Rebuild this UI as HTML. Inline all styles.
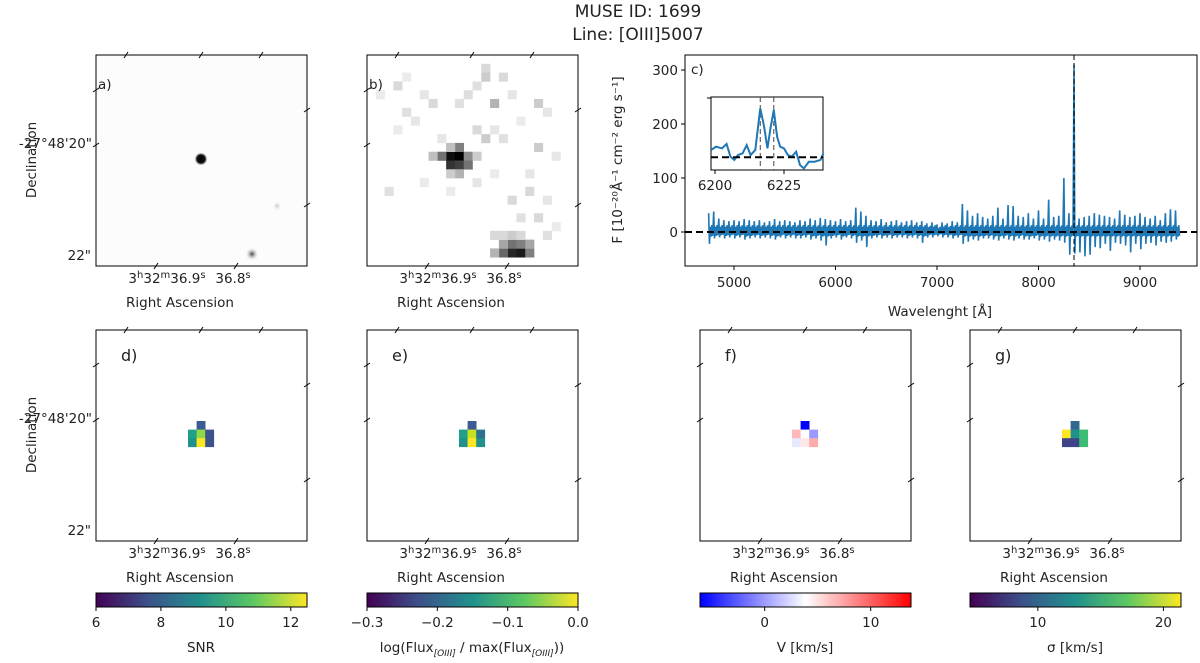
<!DOCTYPE html>
<html><head><meta charset="utf-8"><style>
body{margin:0;background:#fff}
svg{font-family:"DejaVu Sans","Liberation Sans",sans-serif;fill:#222}
text{font-size:13.5px}
</style></head><body>
<svg id="fig" width="1200" height="658" viewBox="0 0 1200 658" xmlns="http://www.w3.org/2000/svg">
<defs>
<linearGradient id="viridis" x1="0" x2="1" y1="0" y2="0">
<stop offset="0" stop-color="#440154"/><stop offset="0.25" stop-color="#3b528b"/><stop offset="0.5" stop-color="#21918c"/><stop offset="0.75" stop-color="#5ec962"/><stop offset="1" stop-color="#fde725"/>
</linearGradient>
<linearGradient id="bwr" x1="0" x2="1" y1="0" y2="0">
<stop offset="0" stop-color="#0000ff"/><stop offset="0.5" stop-color="#ffffff"/><stop offset="1" stop-color="#ff0000"/>
</linearGradient>
<radialGradient id="blob"><stop offset="0" stop-color="#444"/><stop offset="1" stop-color="#fff" stop-opacity="0"/></radialGradient>
<radialGradient id="dot"><stop offset="0" stop-color="#000"/><stop offset="0.6" stop-color="#111"/><stop offset="1" stop-color="#fff" stop-opacity="0"/></radialGradient>
</defs>
<text x="638" y="17" text-anchor="middle" style="font-size:17px">MUSE ID: 1699</text>
<text x="638" y="40" text-anchor="middle" style="font-size:17px">Line: [OIII]5007</text>
<g id="imgs"></g>
<g id="spec"></g>
</svg>
<script>
// ---- spectrum data ----
const specStart = 4750, specStep = 50;
const specHi = [35,38,25,22,20,22,20,24,22,20,22,18,20,24,20,22,20,18,22,20,25,22,26,24,22,20,24,20,22,45,38,30,22,20,24,18,20,22,18,20,22,18,20,16,18,14,18,16,20,18,52,40,30,35,28,25,30,45,25,50,48,30,28,35,25,40,25,60,28,30,100,35,310,25,28,30,35,32,30,28,25,40,32,28,30,35,28,25,30,22,35,42,40];
const specLo = [-22,-12,-10,-12,-10,-12,-10,-14,-12,-10,-12,-10,-12,-14,-10,-12,-10,-12,-12,-10,-14,-12,-16,-25,-12,-10,-14,-10,-12,-20,-16,-28,-12,-10,-12,-10,-12,-10,-10,-12,-10,-12,-20,-10,-10,-8,-10,-10,-12,-10,-22,-18,-14,-16,-12,-12,-14,-16,-12,-14,-16,-12,-14,-14,-12,-16,-14,-18,-14,-16,-20,-42,-40,-38,-45,-42,-28,-30,-22,-35,-20,-22,-25,-38,-22,-32,-22,-20,-25,-18,-20,-18,-14];
const lineWave = 8350;
const yTicksC = [0,100,200,300];
const xTicksC = [5000,6000,7000,8000,9000];
const insetWave = [6198.6,6200.4,6202.5,6204.2,6205.6,6207.0,6208.3,6210.0,6211.5,6212.9,6214.6,6216.4,6217.8,6219.0,6220.1,6221.3,6222.5,6223.6,6225.0,6226.4,6227.8,6229.4,6230.8,6232.2,6234.0,6236.1,6238.2,6239.3];
const insetFlux = [33,48,40,60,3,-12,10,18,55,10,33,220,138,40,130,213,93,48,40,10,3,25,-35,-50,-20,-20,-12,18];
const insetLines = [6216.4,6221.3];
const insetXTicks = [6200,6225];
const cbTicksD = [6,8,10,12], cbRangeD=[6,12.5];
const cbTicksE = [-0.3,-0.2,-0.1,0.0], cbRangeE=[-0.3,0];
const cbTicksF = [0,10], cbRangeF=[-6.1,13.8];
const cbTicksG = [10,20], cbRangeG=[4.6,21.4];

const NS="http://www.w3.org/2000/svg";
function el(tag, attrs, parent, txt){const e=document.createElementNS(NS,tag);for(const k in attrs)e.setAttribute(k,attrs[k]);if(txt!==undefined)e.textContent=txt;parent.appendChild(e);return e;}
const spec=document.getElementById('spec'), imgs=document.getElementById('imgs');

// ---- panel c ----
const cx0=685,cx1=1197,cy0=55,cy1=266;
const xC=w=>734+(w-5000)*0.1015;
const yC=v=>232-v*0.54;
let pts=[];
const sub=[[0,1],[8,-1],[16,0.55],[24,-0.6],[32,0.7],[40,-0.5]];
for(let i=0;i<specHi.length;i++){const w=specStart+i*specStep;
 sub.forEach((s,j)=>{let v;
  if(j===0)v=specHi[i]; else if(j===1)v=specLo[i];
  else v=s[1]>0?Math.min(specHi[i],18)*s[1]:Math.max(specLo[i],-14)*(-s[1]);
  pts.push(xC(w+s[0])+','+yC(v));});}
let p=el('polyline',{points:pts.join(' '),fill:'none',stroke:'#1f77b4','stroke-width':1.6,'stroke-linejoin':'bevel'},spec);

p=el('line',{x1:cx0,x2:cx1,y1:yC(0),y2:yC(0),stroke:'#000','stroke-width':2,'stroke-dasharray':'7,4'},spec);

p=el('line',{x1:xC(lineWave),x2:xC(lineWave),y1:cy0,y2:cy1,stroke:'#000','stroke-width':1,'stroke-dasharray':'5,3'},spec);

p=el('rect',{x:cx0,y:cy0,width:cx1-cx0,height:cy1-cy0,fill:'none',stroke:'#000','stroke-width':1},spec);

yTicksC.forEach(v=>{el('line',{x1:cx0-4,x2:cx0,y1:yC(v),y2:yC(v),stroke:'#000'},spec);const t=el('text',{x:cx0-7,y:yC(v)+5,'text-anchor':'end'},spec,v);});
xTicksC.forEach(v=>{el('line',{x1:xC(v),x2:xC(v),y1:cy1,y2:cy1+4,stroke:'#000'},spec);const t=el('text',{x:xC(v),y:cy1+21,'text-anchor':'middle'},spec,v);});
p=el('text',{x:940,y:316,'text-anchor':'middle'},spec,'Wavelenght [Å]');
p=el('text',{x:0,y:0,'text-anchor':'middle',transform:'translate(622,160) rotate(-90)'},spec,'F [10⁻²⁰Å⁻¹ cm⁻² erg s⁻¹]');
p=el('text',{x:691,y:74},spec,'c)');
const ix0=711,ix1=823,iy0=97,iy1=170;
const xI=w=>715+(w-6200)*2.76, yI=v=>157.3-v/4.5;
p=el('rect',{x:ix0,y:iy0,width:ix1-ix0,height:iy1-iy0,fill:'#fff',stroke:'#000'},spec);
insetLines.forEach(w=>{const l=el('line',{x1:xI(w),x2:xI(w),y1:iy0,y2:iy1,stroke:'#444','stroke-dasharray':'5,3'},spec);});
p=el('polyline',{points:insetWave.map((w,i)=>xI(w)+','+yI(insetFlux[i])).join(' '),fill:'none',stroke:'#1f77b4','stroke-width':2},spec);
p=el('line',{x1:ix0,x2:ix1,y1:yI(0),y2:yI(0),stroke:'#000','stroke-width':2,'stroke-dasharray':'7,4'},spec);
el('line',{x1:ix0-4,x2:ix0,y1:98,y2:98,stroke:'#000'},spec);
insetXTicks.forEach(v=>{el('line',{x1:xI(v),x2:xI(v),y1:iy1,y2:iy1+4,stroke:'#000'},spec);const t=el('text',{x:xI(v),y:iy1+20,'text-anchor':'middle'},spec,v);});

// ---- image panels ----
function frame(x,y,name){const r=el('rect',{x:x,y:y,width:211,height:211,fill:'none',stroke:'#000'},imgs);
 [[x+30,y],[x+105,y],[x+165,y]].forEach(q=>el('line',{x1:q[0]-2,y1:q[1]+3,x2:q[0]+2,y2:q[1]-3,stroke:'#000'},imgs));
 [[x,y+35],[x,y+90],[x+211,y+55],[x+211,y+150]].forEach(q=>el('line',{x1:q[0]-3,y1:q[1]+2,x2:q[0]+3,y2:q[1]-2,stroke:'#000'},imgs));
 [[x+60,y+211],[x+140,y+211]].forEach(q=>el('line',{x1:q[0]-2,y1:q[1]+3,x2:q[0]+2,y2:q[1]-3,stroke:'#000'},imgs));
}
function raLabels(x,y,showDec){
 let t=el('text',{x:x+71,y:y+228,'text-anchor':'middle'},imgs);t.innerHTML='3<tspan dy="-5" style="font-size:10px">h</tspan><tspan dy="5">32</tspan><tspan dy="-5" style="font-size:10px">m</tspan><tspan dy="5">36.9</tspan><tspan dy="-5" style="font-size:10px">s</tspan>';
 
 t=el('text',{x:x+137,y:y+228,'text-anchor':'middle'},imgs);t.innerHTML='36.8<tspan dy="-5" style="font-size:10px">s</tspan>';
 
 t=el('text',{x:x+84,y:y+252,'text-anchor':'middle'},imgs,'Right Ascension');
 if(showDec){
  t=el('text',{x:x-4,y:y+93,'text-anchor':'end'},imgs,'-27°48\'20"');
  t=el('text',{x:x-5,y:y+205,'text-anchor':'end'},imgs,'22"');
  t=el('text',{x:0,y:0,'text-anchor':'middle',transform:'translate(36,'+(y+105)+') rotate(-90)'},imgs,'Declination');
 }
}
let t;
el('rect',{x:96,y:55,width:211,height:211,fill:'#fcfcfc'},imgs);
t=el('circle',{cx:201,cy:159,r:7,fill:'url(#dot)'},imgs);
el('circle',{cx:252,cy:254,r:7,fill:'url(#blob)'},imgs);
el('circle',{cx:277,cy:206,r:5,fill:'url(#blob)',opacity:0.3},imgs);
frame(96,55,'panel-a-frame');raLabels(96,55,true);
t=el('text',{x:98,y:89},imgs,'a)');
const bPix=[[9,11,0.95],[10,11,1],[9,12,0.8],[10,12,0.75],[8,11,0.55],[11,11,0.45],[10,10,0.5],[9,10,0.25],[11,12,0.55],[10,13,0.3],[9,13,0.2],[7,11,0.25],[12,11,0.2],
[16,22,0.85],[17,22,0.9],[15,22,0.6],[18,22,0.5],[16,21,0.55],[17,21,0.5],[15,21,0.35],[18,21,0.35],[14,22,0.3],[15,20,0.15],[16,20,0.2],[17,20,0.15],[14,20,0.15],
[13,1,0.15],[13,2,0.2],[14,5,0.3],[12,3,0.12],[3,3,0.15],[4,6,0.12],[7,5,0.15],[10,5,0.12],[15,2,0.15],[19,5,0.2],[12,8,0.15],[13,9,0.2],[19,10,0.2],[2,15,0.12],[16,16,0.15],[18,15,0.15],[5,7,0.1],[8,9,0.1],[11,4,0.13],[20,20,0.12],[19,18,0.15],
[1,4,0.08],[4,2,0.08],[6,4,0.1],[3,8,0.08],[14,8,0.1],[15,9,0.12],[16,4,0.1],[17,7,0.08],[20,6,0.1],[21,11,0.1],[6,14,0.08],[12,14,0.1],[14,13,0.08],[18,13,0.1],[17,18,0.12],[9,15,0.08],[20,16,0.1],[21,19,0.08]];
el('rect',{x:367,y:55,width:211,height:211,fill:'#fff'},imgs);
const ps=211/24;
bPix.forEach(q=>{const g=Math.round(255*(1-q[2]));const r=el('rect',{x:367+q[0]*ps,y:55+q[1]*ps,width:ps+0.3,height:ps+0.3,fill:'rgb('+g+','+g+','+g+')'},imgs);});
frame(367,55,'panel-b-frame');raLabels(367,55,false);
t=el('text',{x:369,y:89},imgs,'b)');

const pxD=[[1,0,'#3b5b92'],[0,1,'#1fa187'],[1,1,'#8fd744'],[2,1,'#3b528b'],[0,2,'#21918c'],[1,2,'#fde725'],[2,2,'#3b528b']];
const pxE=[[1,0,'#3b5b92'],[0,1,'#1fa187'],[1,1,'#c8e020'],[2,1,'#2c728e'],[0,2,'#21918c'],[1,2,'#fde725'],[2,2,'#21918c']];
const pxF=[[1,0,'#0000ff'],[0,1,'#ffb8b8'],[1,1,'#ffffff'],[2,1,'#9999ff'],[0,2,'#e8e8ff'],[1,2,'#ffe8e8'],[2,2,'#ffaaaa']];
const pxG=[[1,0,'#31688e'],[0,1,'#fde725'],[1,1,'#21918c'],[2,1,'#3dbc74'],[0,2,'#404387'],[1,2,'#404387'],[2,2,'#3dbc74']];
const bottom=[[96,pxD,'d)',cbRangeD,cbTicksD,'SNR','url(#viridis)'],[367,pxE,'e)',cbRangeE,cbTicksE,null,'url(#viridis)'],[700,pxF,'f)',cbRangeF,cbTicksF,'V [km/s]','url(#bwr)'],[970,pxG,'g)',cbRangeG,cbTicksG,'σ [km/s]','url(#viridis)']];
bottom.forEach((b,bi)=>{
 const x=b[0],y=330;
 el('rect',{x:x,y:y,width:211,height:211,fill:'#fff'},imgs);
 b[1].forEach(q=>{const r=el('rect',{x:x+92+q[0]*8.6,y:y+91+q[1]*8.6,width:8.9,height:8.9,fill:q[2]},imgs);});
 frame(x,y,'panel-'+b[2][0]+'-frame');raLabels(x,y,bi===0);
 t=el('text',{x:x+25,y:y+31,style:'font-size:16px'},imgs,b[2]);
 const r=el('rect',{x:x,y:593,width:211,height:14,fill:b[6],stroke:'#000'},imgs);
 const sc=v=>x+(v-b[3][0])/(b[3][1]-b[3][0])*211;
 b[4].forEach(v=>{el('line',{x1:sc(v),x2:sc(v),y1:607,y2:611,stroke:'#000'},imgs);const lab=(bi===1)?(v===0?'0.0':'\u2212'+Math.abs(v).toFixed(1)):String(v);const tt=el('text',{x:sc(v),y:627,'text-anchor':'middle'},imgs,lab);});
 let lt;
 if(b[5]){lt=el('text',{x:x+105,y:652,'text-anchor':'middle'},imgs,b[5]);}
 else{lt=el('text',{x:x+105,y:652,'text-anchor':'middle'},imgs);lt.innerHTML='log(Flux<tspan dy="4" style="font-size:9px;font-style:italic">[OIII]</tspan><tspan dy="-4"> / max(Flux</tspan><tspan dy="4" style="font-size:9px;font-style:italic">[OIII]</tspan><tspan dy="-4">))</tspan>';}
 
});
</script>
</body></html>
